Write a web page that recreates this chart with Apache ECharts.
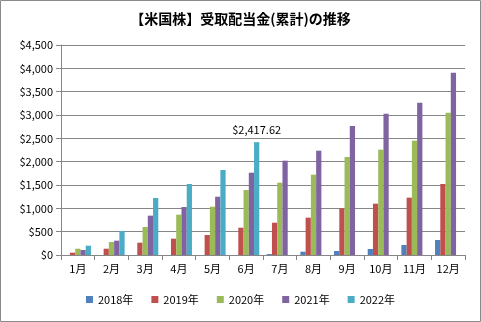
<!DOCTYPE html>
<html><head><meta charset="utf-8">
<script src="https://cdn.jsdelivr.net/npm/echarts@6/dist/echarts.min.js"></script>
<style>html,body{margin:0;padding:0;background:#fff}#c{width:481px;height:322px}</style>
</head><body><div id="c"></div>
<script>
const categories = ['1月','2月','3月','4月','5月','6月','7月','8月','9月','10月','11月','12月'];
const seriesNames = ['2018年','2019年','2020年','2021年','2022年'];
const s2018 = [null, null, null, null, null, null, 20, 71, 86, 129, 214, 321];
const s2019 = [50, 135, 264, 350, 428, 585, 692, 800, 1000, 1100, 1229, 1521];
const s2020 = [135, 278, 600, 864, 1035, 1393, 1550, 1721, 2100, 2257, 2450, 3050];
const s2021 = [107, 307, 843, 1028, 1249, 1764, 2021, 2235, 2764, 3029, 3264, 3906];
const s2022 = [200, 514, 1221, 1521, 1821, 2417.62, null, null, null, null, null, null];
const yTicks = [0, 500, 1000, 1500, 2000, 2500, 3000, 3500, 4000, 4500];
const colors = ['#4F81BD','#C0504D','#9BBB59','#8064A2','#4BACC6'];
const allData = [s2018, s2019, s2020, s2021, s2022];
const labelIndex = 5; // 6月 of 2022

const font = '"Noto Sans CJK JP", "Noto Sans", sans-serif';
const chart = echarts.init(document.getElementById('c'));
chart.setOption({
  animation: false,
  color: colors,
  graphic: [{type:'rect', shape:{x:0.5,y:0.5,width:480,height:321}, style:{fill:'none', stroke:'#8a8a8a', lineWidth:1}, z:-1}],
  title: {
    text: '【米国株】受取配当金(累計)の推移',
    left: 'center', top: 7,
    textStyle: {fontFamily: font, fontSize: 14, fontWeight: 'bold', color: '#000'}
  },
  legend: {
    bottom: 12, left: 'center',
    itemWidth: 7, itemHeight: 7, itemGap: 18,
    icon: 'rect',
    textStyle: {fontFamily: font, fontSize: 11, color: '#000'},
    data: seriesNames
  },
  grid: {left: 61, right: 16, top: 45, bottom: 67, containLabel: false},
  xAxis: {
    type: 'category', data: categories,
    axisLine: {lineStyle: {color: '#868686'}},
    axisTick: {show: true, alignWithLabel: false, length: 5, lineStyle: {color: '#868686'}},
    axisLabel: {fontFamily: font, fontSize: 11, color: '#000', margin: 8}
  },
  yAxis: {
    type: 'value', min: 0, max: 4500, interval: 500,
    axisLine: {show: true, lineStyle: {color: '#868686'}},
    axisTick: {show: true, length: 5, lineStyle: {color: '#868686'}},
    splitLine: {lineStyle: {color: '#868686'}},
    axisLabel: {fontFamily: font, fontSize: 11, color: '#000', margin: 8,
      formatter: v => yTicks.includes(v) ? '$' + v.toLocaleString('en-US') : ''}
  },
  series: seriesNames.map((name, i) => ({
    name, type: 'bar',
    barGap: '0%', barCategoryGap: '22%',
    data: allData[i].map((v, j) => {
      if (i === 4 && j === labelIndex) {
        return {value: v, label: {show: true, position: 'top', distance: 7,
          fontFamily: font, fontSize: 11, color: '#000',
          formatter: p => '$' + p.value.toLocaleString('en-US', {minimumFractionDigits: 2, maximumFractionDigits: 2})}};
      }
      return v;
    })
  }))
});
</script></body></html>
